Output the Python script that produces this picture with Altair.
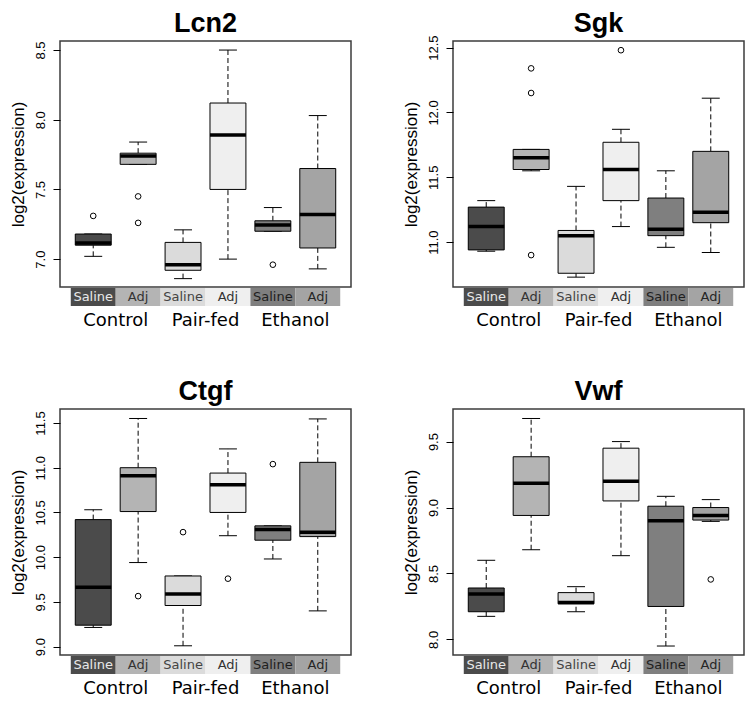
import altair as alt
import pandas as pd

genes = ["Lcn2", "Sgk", "Ctgf", "Vwf"]
treatments = ["Saline", "Adj", "Saline", "Adj", "Saline", "Adj"]
cell_groups = ["Control", "Control", "Pair-fed", "Pair-fed", "Ethanol", "Ethanol"]

# Lcn2
lcn2_low = [7.02, 7.68, 6.86, 7.00, 7.20, 6.93]
lcn2_q1 = [7.10, 7.68, 6.92, 7.50, 7.20, 7.08]
lcn2_med = [7.115, 7.74, 6.96, 7.89, 7.245, 7.32]
lcn2_q3 = [7.18, 7.76, 7.12, 8.12, 7.275, 7.65]
lcn2_high = [7.18, 7.84, 7.21, 8.50, 7.37, 8.03]
lcn2_out_pos = [1, 2, 2, 5]
lcn2_out_val = [7.31, 7.45, 7.26, 6.96]
lcn2_range = [6.80, 8.565]
lcn2_ticks = [7.0, 7.5, 8.0, 8.5]

# Sgk
sgk_low = [10.93, 11.55, 10.73, 11.12, 10.96, 10.92]
sgk_q1 = [10.94, 11.56, 10.76, 11.32, 11.05, 11.15]
sgk_med = [11.12, 11.65, 11.05, 11.56, 11.10, 11.23]
sgk_q3 = [11.27, 11.715, 11.09, 11.77, 11.34, 11.70]
sgk_high = [11.32, 11.715, 11.43, 11.87, 11.55, 12.11]
sgk_out_pos = [2, 2, 2, 4]
sgk_out_val = [12.34, 12.15, 10.90, 12.48]
sgk_range = [10.654, 12.551]
sgk_ticks = [11.0, 11.5, 12.0, 12.5]

# Ctgf
ctgf_low = [9.215, 9.94, 9.01, 10.24, 9.98, 9.40]
ctgf_q1 = [9.24, 10.51, 9.46, 10.50, 10.19, 10.23]
ctgf_med = [9.665, 10.91, 9.59, 10.81, 10.31, 10.28]
ctgf_q3 = [10.42, 11.00, 9.79, 10.94, 10.35, 11.06]
ctgf_high = [10.53, 11.55, 9.79, 11.21, 10.35, 11.545]
ctgf_out_pos = [2, 3, 4, 5]
ctgf_out_val = [9.565, 10.28, 9.76, 11.04]
ctgf_range = [8.907, 11.656]
ctgf_ticks = [9.0, 9.5, 10.0, 10.5, 11.0, 11.5]

# Vwf
vwf_low = [8.175, 8.68, 8.21, 8.635, 7.95, 8.895]
vwf_q1 = [8.21, 8.94, 8.27, 9.05, 8.25, 8.905]
vwf_med = [8.345, 9.185, 8.28, 9.20, 8.90, 8.94]
vwf_q3 = [8.39, 9.385, 8.355, 9.45, 9.01, 9.00]
vwf_high = [8.60, 9.675, 8.40, 9.50, 9.085, 9.06]
vwf_out_pos = [6]
vwf_out_val = [8.455]
vwf_range = [7.882, 9.747]
vwf_ticks = [8.0, 8.5, 9.0, 9.5]

CELL_COLORS = ["#4b4b4b", "#b4b4b4", "#dbdbdb", "#efefef", "#7f7f7f", "#a4a4a4"]
TEXT_COLORS = ["#e8e8e8", "#333333", "#444444", "#333333", "#1e1e1e", "#262626"]

W, H = 291, 246


def panel(name, low, q1, med, q3, high, out_pos, out_val, yrange, ticks):
    cells = [f"{g} {t}" for g, t in zip(cell_groups, treatments)]
    df = pd.DataFrame({
        "pos": list(range(1, 7)), "cell": cells, "treat": treatments,
        "group": cell_groups,
        "low": low, "q1": q1, "med": med, "q3": q3, "high": high,
    })
    odf = pd.DataFrame({"pos": out_pos, "val": out_val})
    gdf = df.groupby("group", sort=False)["pos"].mean().reset_index()
    tdf = pd.DataFrame({"pos": [df["pos"].mean()], "gene": [name]})

    xs = alt.Scale(domain=[0.26, 6.74], nice=False, zero=False)
    ys = alt.Scale(domain=yrange, nice=False, zero=False)
    cs = alt.Scale(domain=cells, range=CELL_COLORS)
    ts = alt.Scale(domain=cells, range=TEXT_COLORS)
    yaxis = alt.Axis(
        values=ticks, format=".1f", title="log2(expression)", grid=False,
        domain=False, tickSize=7, tickColor="black", labelAngle=-90,
        labelAlign="center", labelBaseline="bottom", labelPadding=6,
        labelFont="Liberation Sans", labelFontSize=13, labelColor="black",
        titleFont="Liberation Sans", titleFontSize=17, titleFontWeight="normal",
        titleColor="black", titlePadding=7,
    )

    def X(f):
        return alt.X(f"{f}:Q", scale=xs, axis=None)

    def Y(f):
        return alt.Y(f"{f}:Q", scale=ys, axis=yaxis)

    base = alt.Chart(df).transform_calculate(
        xl="datum.pos - 0.4", xr="datum.pos + 0.4",
        cl="datum.pos - 0.2", cr="datum.pos + 0.2",
        bl="datum.pos - 0.5", br="datum.pos + 0.5",
    )

    title = alt.Chart(tdf).mark_text(
        font="Liberation Sans", fontSize=27, fontWeight="bold",
        baseline="alphabetic", color="black",
    ).encode(x=X("pos"), y=alt.value(-9), text="gene:N")

    band = base.mark_rect().encode(
        x=X("bl"), x2="br:Q", y=alt.value(H + 1), y2=alt.value(H + 19),
        fill=alt.Fill("cell:N", scale=cs, legend=None),
    )
    band_text = base.mark_text(font="DejaVu Sans", fontSize=13, baseline="middle").encode(
        x=X("pos"), y=alt.value(H + 10), text="treat:N",
        color=alt.Color("cell:N", scale=ts, legend=None),
    )
    group_text = alt.Chart(gdf).mark_text(
        font="DejaVu Sans", fontSize=18, baseline="alphabetic", color="black"
    ).encode(x=X("pos"), y=alt.value(H + 39), text="group:N")

    whisk_hi = base.mark_rule(color="black", strokeDash=[5, 3], strokeWidth=1).encode(
        x=X("pos"), y=Y("q3"), y2="high:Q")
    whisk_lo = base.mark_rule(color="black", strokeDash=[5, 3], strokeWidth=1).encode(
        x=X("pos"), y=Y("low"), y2="q1:Q")
    cap_hi = base.mark_rule(color="black", strokeWidth=1).encode(
        x=X("cl"), x2="cr:Q", y=Y("high"))
    cap_lo = base.mark_rule(color="black", strokeWidth=1).encode(
        x=X("cl"), x2="cr:Q", y=Y("low"))
    box = base.mark_rect(stroke="black", strokeWidth=1).encode(
        x=X("xl"), x2="xr:Q", y=Y("q1"), y2="q3:Q",
        fill=alt.Fill("cell:N", scale=cs, legend=None),
    )
    median = base.mark_rule(color="black", strokeWidth=3.5).encode(
        x=X("xl"), x2="xr:Q", y=Y("med"))
    outliers = alt.Chart(odf).mark_point(
        shape="circle", size=32, filled=False, color="black", strokeWidth=1, opacity=1
    ).encode(x=X("pos"), y=Y("val"))

    return alt.layer(
        title, band, band_text, group_text, whisk_hi, whisk_lo, cap_hi, cap_lo,
        box, median, outliers,
    ).resolve_scale(color="independent", fill="independent").properties(
        width=W, height=H,
    )


p1 = panel(genes[0], lcn2_low, lcn2_q1, lcn2_med, lcn2_q3, lcn2_high,
           lcn2_out_pos, lcn2_out_val, lcn2_range, lcn2_ticks)
p2 = panel(genes[1], sgk_low, sgk_q1, sgk_med, sgk_q3, sgk_high,
           sgk_out_pos, sgk_out_val, sgk_range, sgk_ticks)
p3 = panel(genes[2], ctgf_low, ctgf_q1, ctgf_med, ctgf_q3, ctgf_high,
           ctgf_out_pos, ctgf_out_val, ctgf_range, ctgf_ticks)
p4 = panel(genes[3], vwf_low, vwf_q1, vwf_med, vwf_q3, vwf_high,
           vwf_out_pos, vwf_out_val, vwf_range, vwf_ticks)

chart = alt.vconcat(
    alt.hconcat(p1, p2, spacing=49),
    alt.hconcat(p3, p4, spacing=49),
    spacing=46,
).properties(padding={"left": 0, "top": 1, "right": 0, "bottom": 0},
             background="white").configure_view(
    stroke="#3c3c3c", strokeWidth=1.5
)

chart.save("out.html", embed_options={"renderer": "svg", "actions": False})
